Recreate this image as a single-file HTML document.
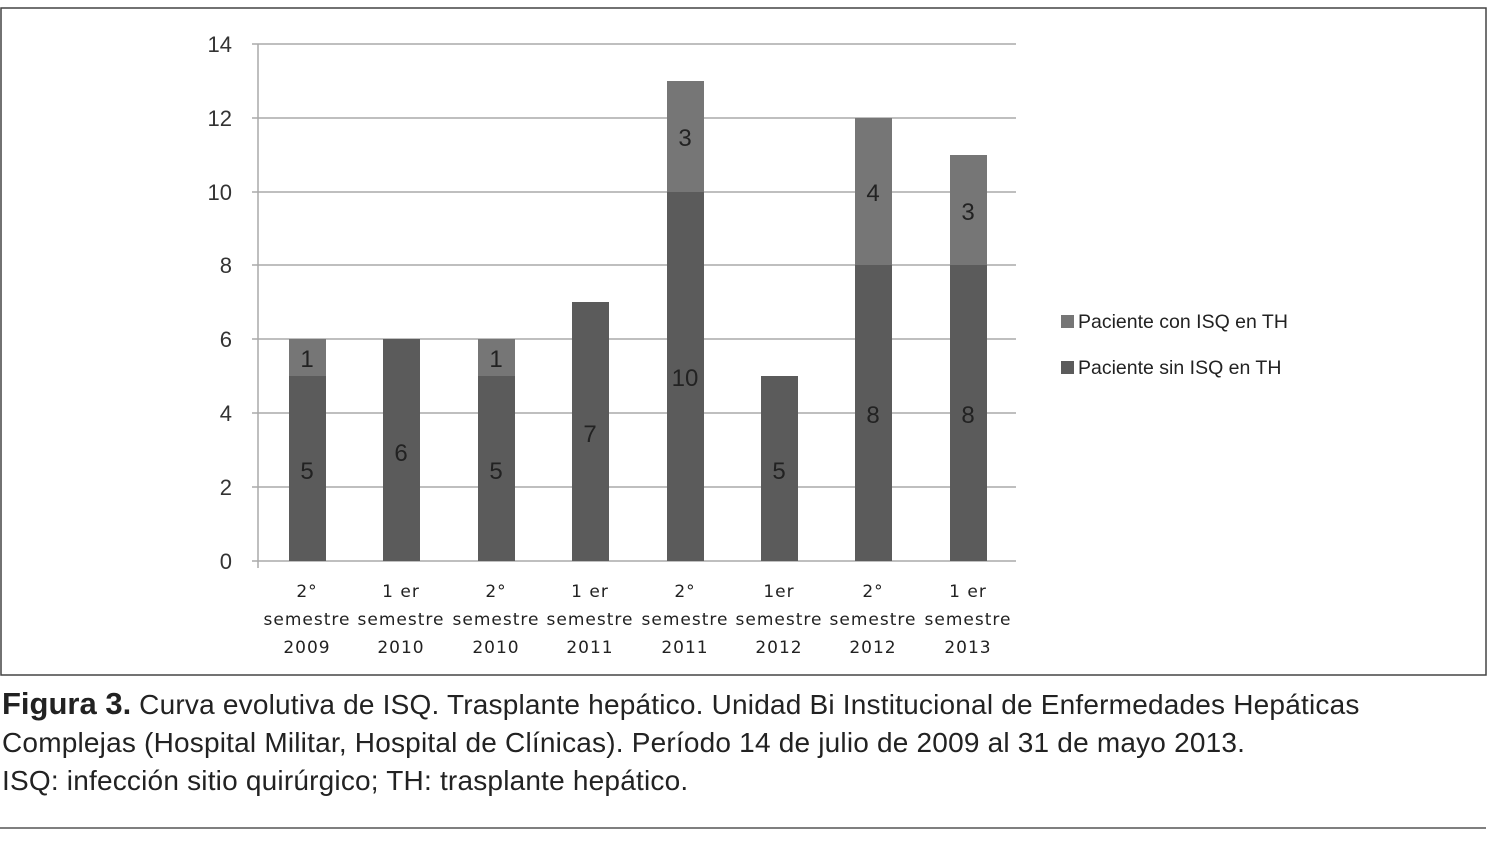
<!DOCTYPE html>
<html><head><meta charset="utf-8"><style>
body{margin:0;background:#fff;width:1500px;height:843px;overflow:hidden;font-family:"Liberation Sans",sans-serif}
.cap{position:absolute;left:2px;top:685px;font-size:28px;line-height:38px;color:#222;letter-spacing:0.2px;white-space:nowrap}
</style></head><body>
<svg width="1500" height="843" style="position:absolute;left:0;top:0" font-family="Liberation Sans, sans-serif">
<rect x="1" y="8" width="1485" height="667" fill="#fff" stroke="#444" stroke-width="1.5"/>
<g stroke="#aaa" stroke-width="1.5">
<line x1="252" x2="1016" y1="44" y2="44"/><line x1="252" x2="1016" y1="118" y2="118"/>
<line x1="252" x2="1016" y1="192" y2="192"/><line x1="252" x2="1016" y1="265" y2="265"/>
<line x1="252" x2="1016" y1="339" y2="339"/><line x1="252" x2="1016" y1="413" y2="413"/>
<line x1="252" x2="1016" y1="487" y2="487"/><line x1="252" x2="1016" y1="561" y2="561"/>
<line x1="258" x2="258" y1="44" y2="568"/>
</g>
<g font-size="22" fill="#333" text-anchor="end">
<text x="232" y="52">14</text><text x="232" y="126">12</text><text x="232" y="200">10</text>
<text x="232" y="273">8</text><text x="232" y="347">6</text><text x="232" y="421">4</text>
<text x="232" y="495">2</text><text x="232" y="569">0</text>
</g>
<g>
<rect x="289" y="376" width="37" height="185" fill="#5b5b5b"/><rect x="289" y="339" width="37" height="37" fill="#767676"/>
<rect x="383" y="339" width="37" height="222" fill="#5b5b5b"/>
<rect x="478" y="376" width="37" height="185" fill="#5b5b5b"/><rect x="478" y="339" width="37" height="37" fill="#767676"/>
<rect x="572" y="302" width="37" height="259" fill="#5b5b5b"/>
<rect x="667" y="192" width="37" height="369" fill="#5b5b5b"/><rect x="667" y="81" width="37" height="111" fill="#767676"/>
<rect x="761" y="376" width="37" height="185" fill="#5b5b5b"/>
<rect x="855" y="265" width="37" height="296" fill="#5b5b5b"/><rect x="855" y="118" width="37" height="147" fill="#767676"/>
<rect x="950" y="265" width="37" height="296" fill="#5b5b5b"/><rect x="950" y="155" width="37" height="110" fill="#767676"/>
</g>
<g font-size="24" fill="#222" text-anchor="middle">
<text x="307" y="367">1</text><text x="307" y="479">5</text>
<text x="401" y="461">6</text>
<text x="496" y="367">1</text><text x="496" y="479">5</text>
<text x="590" y="442">7</text>
<text x="685" y="146">3</text><text x="685" y="386">10</text>
<text x="779" y="479">5</text>
<text x="873" y="201">4</text><text x="873" y="423">8</text>
<text x="968" y="220">3</text><text x="968" y="423">8</text>
</g>
<g font-size="17" fill="#222" text-anchor="middle" font-family="DejaVu Sans, sans-serif" letter-spacing="1">
<text x="307" y="597">2°</text><text x="307" y="625">semestre</text><text x="307" y="653">2009</text>
<text x="401" y="597">1 er</text><text x="401" y="625">semestre</text><text x="401" y="653">2010</text>
<text x="496" y="597">2°</text><text x="496" y="625">semestre</text><text x="496" y="653">2010</text>
<text x="590" y="597">1 er</text><text x="590" y="625">semestre</text><text x="590" y="653">2011</text>
<text x="685" y="597">2°</text><text x="685" y="625">semestre</text><text x="685" y="653">2011</text>
<text x="779" y="597">1er</text><text x="779" y="625">semestre</text><text x="779" y="653">2012</text>
<text x="873" y="597">2°</text><text x="873" y="625">semestre</text><text x="873" y="653">2012</text>
<text x="968" y="597">1 er</text><text x="968" y="625">semestre</text><text x="968" y="653">2013</text>
</g>
<rect x="1061" y="315" width="13" height="13" fill="#767676"/>
<rect x="1061" y="361" width="13" height="13" fill="#5b5b5b"/>
<g font-size="19.5" fill="#222"><text x="1078" y="328">Paciente con ISQ en TH</text><text x="1078" y="374">Paciente sin ISQ en TH</text></g>
<line x1="0" x2="1486" y1="828" y2="828" stroke="#555" stroke-width="1.5"/>
</svg>
<div class="cap"><b style="font-family:'Liberation Sans Narrow','Liberation Sans',sans-serif;font-size:31px;letter-spacing:0">Figura 3.</b> Curva evolutiva de ISQ. Trasplante hepático. Unidad Bi Institucional de Enfermedades Hepáticas<br>Complejas (Hospital Militar, Hospital de Clínicas). Período 14 de julio de 2009 al 31 de mayo 2013.<br>ISQ: infección sitio quirúrgico; TH: trasplante hepático.</div>
</body></html>
